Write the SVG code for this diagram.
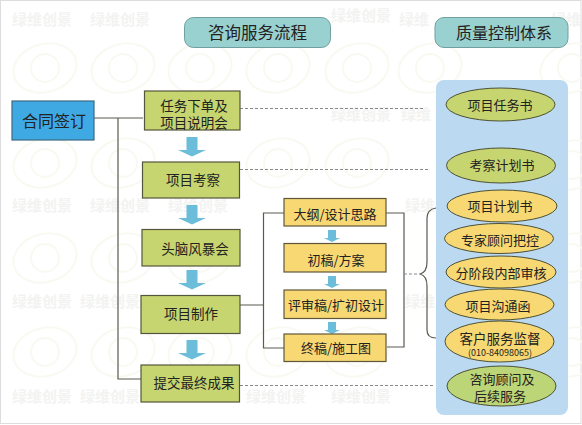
<svg xmlns="http://www.w3.org/2000/svg" width="582" height="425" viewBox="0 0 582 425">
<style>
text{font-family:"Noto Sans CJK SC","Liberation Sans",sans-serif;fill:#222;text-anchor:middle;dominant-baseline:central}
.wm{font-size:15px;font-weight:700;fill:#f3f3f2}
.ring{fill:none;stroke:#f8faf2;stroke-width:2}
.hd{fill:#98d1cf;stroke:#6f9f9f;stroke-width:1}
.ol{fill:#c6d56f;stroke:#55573c;stroke-width:1.2}
.or{fill:#f7d873;stroke:#5f573a;stroke-width:1.2}
.el{stroke:#4d5035;stroke-width:1}
.ln{fill:none;stroke:#5a5a50;stroke-width:1.2}
.ds{fill:none;stroke:#888;stroke-width:1;stroke-dasharray:3 2}
.ar{fill:#6cbdd9}
.t13{font-size:13.5px}
.t12{font-size:13px}
</style>
<defs>
<g id="mark"><ellipse class="ring" cx="0" cy="0" rx="32" ry="24" transform="rotate(-15)"/><circle class="ring" cx="0" cy="0" r="14"/></g>
<path id="bigArrow" class="ar" d="M-5.5 0H5.5V13L14 13 0 19.5-14 13H-5.5Z"/>
<path id="smallArrow" class="ar" d="M-4 0H4V8H8L0 12-8 8H-4Z"/>
</defs>
<rect x="0.5" y="0.5" width="580.5" height="423" fill="#fff" stroke="#ddd"/>
<g id="watermark">
<g class="wm-text">
<text class="wm" x="42" y="18">绿维创景</text><text class="wm" x="120" y="18">绿维创景</text><text class="wm" x="361" y="14">绿维创景</text><text class="wm" x="414" y="18">绿维</text><text class="wm" x="566" y="18">绿维</text>
<text class="wm" x="361" y="113">绿维创景</text><text class="wm" x="416" y="113">绿维</text>
<text class="wm" x="42" y="204">绿维创景</text><text class="wm" x="120" y="204">绿维创景</text><text class="wm" x="198" y="204">绿维创景</text><text class="wm" x="420" y="204">绿维</text>
<text class="wm" x="42" y="300">绿维创景</text><text class="wm" x="110" y="300">绿维创景</text><text class="wm" x="420" y="300">绿维</text>
<text class="wm" x="42" y="395">绿维创景</text><text class="wm" x="110" y="395">绿维创景</text><text class="wm" x="276" y="395">绿维创景</text><text class="wm" x="361" y="395">绿维创景</text>
</g>
<use href="#mark" x="45" y="68"/><use href="#mark" x="123" y="68"/><use href="#mark" x="200" y="68"/><use href="#mark" x="278" y="68"/><use href="#mark" x="357" y="68"/><use href="#mark" x="430" y="68"/>
<use href="#mark" x="45" y="163"/><use href="#mark" x="123" y="163"/><use href="#mark" x="278" y="163"/><use href="#mark" x="357" y="163"/>
<use href="#mark" x="45" y="258"/><use href="#mark" x="123" y="258"/><use href="#mark" x="200" y="258"/>
<use href="#mark" x="45" y="352"/><use href="#mark" x="123" y="352"/><use href="#mark" x="200" y="352"/><use href="#mark" x="278" y="352"/><use href="#mark" x="357" y="352"/>
<use href="#mark" x="572" y="68"/><use href="#mark" x="572" y="165"/><use href="#mark" x="572" y="258"/><use href="#mark" x="572" y="352"/>
</g>
<rect id="panel" x="436" y="80" width="132" height="335" rx="8" fill="#bbdaf2"/>
<g id="connectors">
<path class="ln" d="M94 118H143M118 118V379H141"/>
<path class="ln" d="M240 305H263.5M284 213H263.5V348H284"/>
<path class="ln" d="M386 213H404V347H387"/>
<path class="ln" d="M436 208C430 209 427 212 427 218V262C427 269 424 273 420 274C424 275 427 279 427 286V330C427 335 430 338 436 338"/>
<path class="ds" d="M240 108.5H424M240 169.5H430M240 385.5H433M404 274H420"/>
<use href="#bigArrow" x="192" y="137"/><use href="#bigArrow" x="192" y="205"/><use href="#bigArrow" x="192" y="270"/><use href="#bigArrow" x="192" y="340"/>
<use href="#smallArrow" x="332" y="230"/><use href="#smallArrow" x="332" y="276"/><use href="#smallArrow" x="332" y="322"/>
</g>
<g id="header-process"><rect class="hd" x="184.5" y="17.5" width="146" height="30" rx="9"/><text x="257.5" y="32" font-size="16.5">咨询服务流程</text></g>
<g id="header-quality"><rect class="hd" x="435" y="17.5" width="133" height="30" rx="9"/><text x="504" y="32" font-size="16">质量控制体系</text></g>
<g id="contract"><rect x="12" y="101" width="82" height="39" fill="#3fa9e4" stroke="#3c6a80" stroke-width="1.2"/><text x="54" y="120" font-size="16">合同签订</text></g>
<g id="step1"><rect class="ol" x="144.5" y="91" width="95.5" height="39"/><text class="t13" x="194" y="104.5">任务下单及</text><text class="t13" x="194" y="122">项目说明会</text></g>
<g id="step2"><rect class="ol" x="142.5" y="162" width="97" height="36"/><text class="t13" x="193" y="179">项目考察</text></g>
<g id="step3"><rect class="ol" x="142" y="229.5" width="98" height="36.5"/><text class="t13" x="195" y="248">头脑风暴会</text></g>
<g id="step4"><rect class="ol" x="141" y="295.5" width="99" height="38"/><text class="t13" x="191" y="313">项目制作</text></g>
<g id="step5"><rect class="ol" x="141" y="365" width="98.5" height="37"/><text class="t13" x="194" y="382">提交最终成果</text></g>
<g id="sub1"><rect class="or" x="284" y="198.5" width="102" height="27.5"/><text class="t12" x="335" y="213">大纲/设计思路</text></g>
<g id="sub2"><rect class="or" x="284" y="243.5" width="102" height="28.5"/><text class="t12" x="336" y="259">初稿/方案</text></g>
<g id="sub3"><rect class="or" x="284" y="290" width="102" height="28.5"/><text class="t12" x="336" y="304">评审稿/扩初设计</text></g>
<g id="sub4"><rect class="or" x="284" y="334" width="102" height="27.5"/><text class="t12" x="336" y="347">终稿/施工图</text></g>
<g id="q1"><ellipse class="el" cx="500.5" cy="104.5" rx="54.5" ry="16.5" fill="#c6d56f"/><text class="t12" x="500" y="104.5">项目任务书</text></g>
<g id="q2"><ellipse class="el" cx="501" cy="165.5" rx="54.5" ry="17.5" fill="#c6d56f"/><text class="t12" x="502" y="164">考察计划书</text></g>
<g id="q3"><ellipse class="el" cx="502" cy="206" rx="55" ry="16" fill="#f7d873"/><text class="t12" x="500" y="205">项目计划书</text></g>
<g id="q4"><ellipse class="el" cx="499" cy="238.5" rx="54.5" ry="15" fill="#f7d873"/><text class="t12" x="500" y="239.5">专家顾问把控</text></g>
<g id="q5"><ellipse class="el" cx="501" cy="272" rx="55" ry="16" fill="#f7d873"/><text class="t12" x="501" y="272">分阶段内部审核</text></g>
<g id="q6"><ellipse class="el" cx="499.5" cy="304.5" rx="54.5" ry="15.5" fill="#f7d873"/><text class="t12" x="498" y="305">项目沟通函</text></g>
<g id="q7"><ellipse class="el" cx="499.5" cy="341.5" rx="54.5" ry="20.5" fill="#f7d873"/><text class="t13" x="500" y="338">客户服务监督</text><text x="500" y="352" font-size="9" font-family="Liberation Sans">(010-84098065)</text></g>
<g id="q8"><ellipse class="el" cx="501.5" cy="386" rx="54.5" ry="20" fill="#bcd576"/><text class="t12" x="502" y="378">咨询顾问及</text><text class="t12" x="500" y="395">后续服务</text></g>
</svg>
